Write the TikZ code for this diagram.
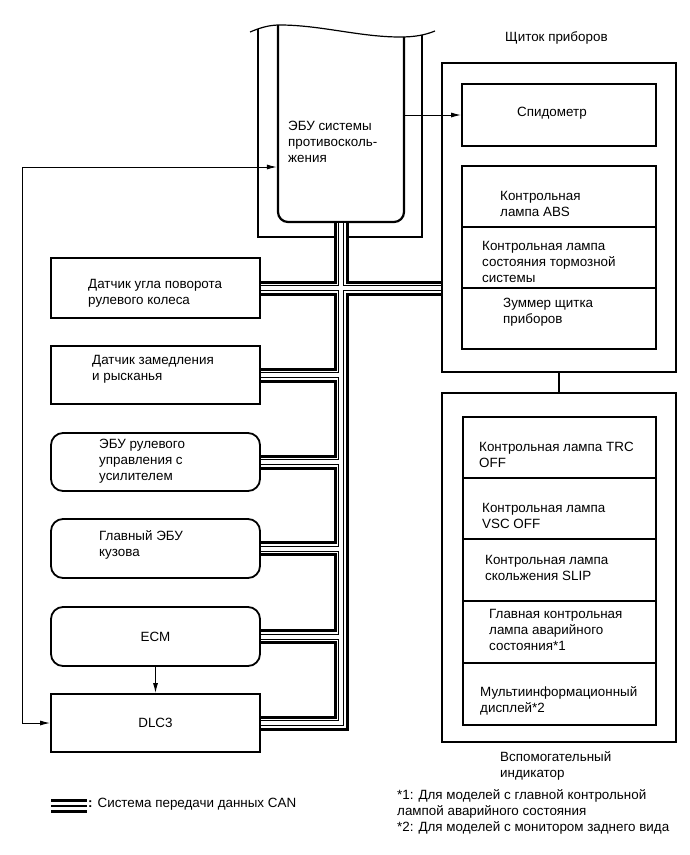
\documentclass[tikz,border=0pt]{standalone}
\usepackage{fontspec}
\setmainfont{Liberation Sans}
\usetikzlibrary{arrows.meta}

\begin{document}
\begin{tikzpicture}[x=1pt,y=-1pt,>={Latex[length=10pt,width=5pt]},
    box/.style={draw,line width=1.8pt,inner sep=0pt,font=\fontsize{13.4}{16}\selectfont},
    rbox/.style={box,rounded corners=12pt},
    lbl/.style={anchor=west,align=left,inner sep=0pt,font=\fontsize{13.4}{16}\selectfont},
    canbus/.style={draw=black,line width=15pt,
        postaction={draw=white,line width=9pt},
        postaction={draw=black,line width=6pt},
        postaction={draw=white,line width=4pt}},
    canleg/.style={draw=black,line width=14pt,
        postaction={draw=white,line width=8pt},
        postaction={draw=black,line width=2pt}}]
    \useasboundingbox (0,0) rectangle (690,855);
    %% skid control ECU, cut off at the top
    \begin{scope}
        \clip (250,32) .. controls (262,27) and (270,25) .. (280,25)
            .. controls (320,25) and (360,37) .. (400,37)
            .. controls (415,37) and (425,35) .. (435,31)
            -- (435,250) -- (250,250) -- cycle;
        \draw[line width=1.4pt] (258,0) rectangle (422,237);
        \node[rbox,line width=2.2pt,rounded corners=10pt,minimum width=126,minimum height=232] (ecu) at (341,106) {};
    \end{scope}
    \draw[line width=1.2pt] (250,32) .. controls (262,27) and (270,25) .. (280,25)
        .. controls (320,25) and (360,37) .. (400,37)
        .. controls (415,37) and (425,35) .. (435,31);
    \node[lbl] (ecut) at (288,142) {ЭБУ системы\\противосколь-\\жения};
    %% combination meter
    \node[box,minimum width=234,minimum height=309] (panel) at (559,217.5) {};
    \node[lbl] (panelt) at (505,38) {Щиток приборов};
    \node[box,minimum width=194,minimum height=62] (spd) at (559,115) {};
    \node[lbl] (spdt) at (517,113) {Спидометр};
    \node[box,minimum width=194,minimum height=61] (abs) at (559,196.5) {};
    \node[box,minimum width=194,minimum height=61] (brake) at (559,257.5) {};
    \node[box,minimum width=194,minimum height=61] (buzz) at (559,318.5) {};
    \node[lbl] (abst) at (500,204) {Контрольная\\лампа ABS};
    \node[lbl] (braket) at (482,262) {Контрольная лампа\\состояния тормозной\\системы};
    \node[lbl] (buzzt) at (503,312) {Зуммер щитка\\приборов};
    %% sub indicator
    \node[box,minimum width=234,minimum height=349] (aux) at (559,567.5) {};
    \node[lbl] (auxt) at (500,766) {Вспомогательный\\индикатор};
    \node[box,minimum width=193,minimum height=61] (trc) at (559.5,447.5) {};
    \node[box,minimum width=193,minimum height=61] (vsc) at (559.5,508.5) {};
    \node[box,minimum width=193,minimum height=62] (slip) at (559.5,570) {};
    \node[box,minimum width=193,minimum height=62] (master) at (559.5,632) {};
    \node[box,minimum width=193,minimum height=62] (multi) at (559.5,694) {};
    \node[lbl] (trct) at (479,455) {Контрольная лампа TRC\\OFF};
    \node[lbl] (vsct) at (482,516) {Контрольная лампа\\VSC OFF};
    \node[lbl] (slipt) at (485,568) {Контрольная лампа\\скольжения SLIP};
    \node[lbl] (mastert) at (489,630) {Главная контрольная\\лампа аварийного\\состояния*1};
    \node[lbl] (multit) at (480,701) {Мультиинформационный\\дисплей*2};
    \draw[line width=1.4pt] (panel.south) -- (aux.north);
    %% units on the left
    \node[box,minimum width=209,minimum height=60] (sas) at (155.5,288) {};
    \node[box,minimum width=209,minimum height=58] (yaw) at (155.5,375) {};
    \node[rbox,minimum width=209,minimum height=58] (eps) at (155.5,462) {};
    \node[rbox,minimum width=209,minimum height=59] (body) at (155.5,548.5) {};
    \node[rbox,minimum width=209,minimum height=59] (ecm) at (155.5,636.5) {ECM};
    \node[box,minimum width=209,minimum height=58] (dlc) at (155.5,723) {DLC3};
    \node[lbl] (sast) at (88,293.5) {Датчик угла поворота\\рулевого колеса};
    \node[lbl] (yawt) at (92,369) {Датчик замедления\\и рысканья};
    \node[lbl] (epst) at (99,461) {ЭБУ рулевого\\управления с\\усилителем};
    \node[lbl] (bodyt) at (99,545) {Главный ЭБУ\\кузова};
    %% signal lines
    \coordinate (bend) at (22,167);
    \draw[line width=1pt,<->] (dlc.west) -| (bend) -- (ecu.west |- bend);
    \draw[line width=1pt,->] (ecu.east |- spd.west) -- (spd.west);
    \draw[line width=1pt,->] (ecm.south) -- (dlc.north);
    %% CAN bus
    \draw[canbus] (ecu.south) -- (ecu.south |- dlc.east) -- (dlc.east)
        (sas.east) -- (panel.west |- sas.east)
        (yaw.east) -- (ecu.south |- yaw.east)
        (eps.east) -- (ecu.south |- eps.east)
        (body.east) -- (ecu.south |- body.east)
        (ecm.east) -- (ecu.south |- ecm.east);
    %% legend and notes
    \coordinate (lega) at (51,806);
    \coordinate (legb) at (87,806);
    \draw[canleg] (lega) -- (legb);
    \node[lbl] (legt) at (88,804) {\textbf{:} Система передачи данных CAN};
    \node[lbl] (notes) at (397,812) {*1: Для моделей с главной контрольной\\лампой аварийного состояния\\*2: Для моделей с монитором заднего вида};
\end{tikzpicture}
\end{document}
